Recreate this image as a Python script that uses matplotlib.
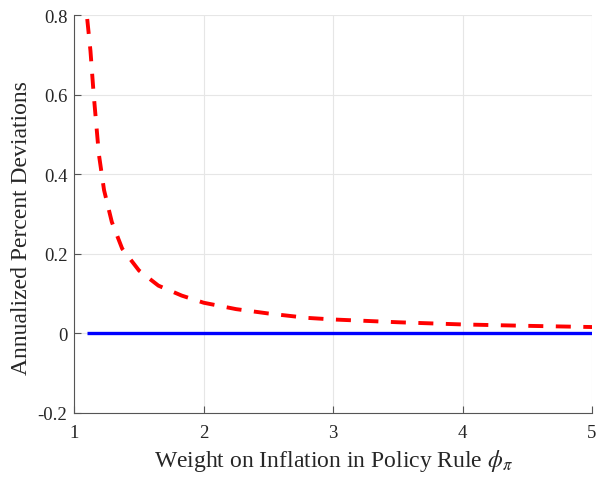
import matplotlib
matplotlib.use("Agg")
import matplotlib.pyplot as plt

# Data
phi = [1.1, 1.125, 1.15, 1.19, 1.23, 1.29, 1.37, 1.5, 1.65, 1.83, 2.0, 2.25,
       2.5, 2.8, 3.0, 3.5, 4.0, 4.5, 5.0]
red_dev = [0.79, 0.71, 0.60, 0.45, 0.36, 0.28, 0.213, 0.158, 0.12, 0.095, 0.077,
           0.061, 0.050, 0.039, 0.035, 0.028, 0.0225, 0.019, 0.016]
blue_x = [1.1, 5.0]
blue_dev = [0.0, 0.0]

xticks = [1, 2, 3, 4, 5]
yticks = [-0.2, 0, 0.2, 0.4, 0.6, 0.8]
yticklabels = ["-0.2", "0", "0.2", "0.4", "0.6", "0.8"]

plt.rcParams['font.family'] = ['Liberation Serif', 'DejaVu Serif']
plt.rcParams['mathtext.fontset'] = 'stix'
plt.rcParams['lines.scale_dashes'] = False

fig = plt.figure(figsize=(6.0, 4.81), dpi=100)
ax = fig.add_axes([0.1238, 0.1393, 0.8629, 0.8274])

ax.plot(blue_x, blue_dev, color='#0000FF', lw=2.4, solid_capstyle='butt', zorder=3)
ax.plot(phi, red_dev, color='#FF0000', lw=2.8, dashes=(10.8, 9.0),
        dash_capstyle='butt', zorder=4, clip_on=True)

ax.set_xlim(1, 5)
ax.set_ylim(-0.2, 0.8)
ax.set_xticks(xticks)
ax.set_xticklabels([str(t) for t in xticks])
ax.set_yticks(yticks)
ax.set_yticklabels(yticklabels)

ax.grid(True, color='#e6e6e6', lw=0.8)
ax.set_axisbelow(True)
for s in ['top', 'right']:
    ax.spines[s].set_visible(False)
for s in ['left', 'bottom']:
    ax.spines[s].set_color('#555555')
    ax.spines[s].set_linewidth(0.8)
ax.tick_params(direction='in', length=5, width=0.8, color='#555555',
               labelsize=13.5, labelcolor='#262626')
ax.tick_params(axis='x', pad=8)
ax.tick_params(axis='y', pad=5)

ax.set_xlabel(r'Weight on Inflation in Policy Rule $\phi_{\pi}$', fontsize=17,
              color='#262626', labelpad=4)
ax.set_ylabel('Annualized Percent Deviations', fontsize=17, color='#262626',
              labelpad=4)
ax.yaxis.label.set_y(0.468)

fig.savefig('out.png', dpi=100)
